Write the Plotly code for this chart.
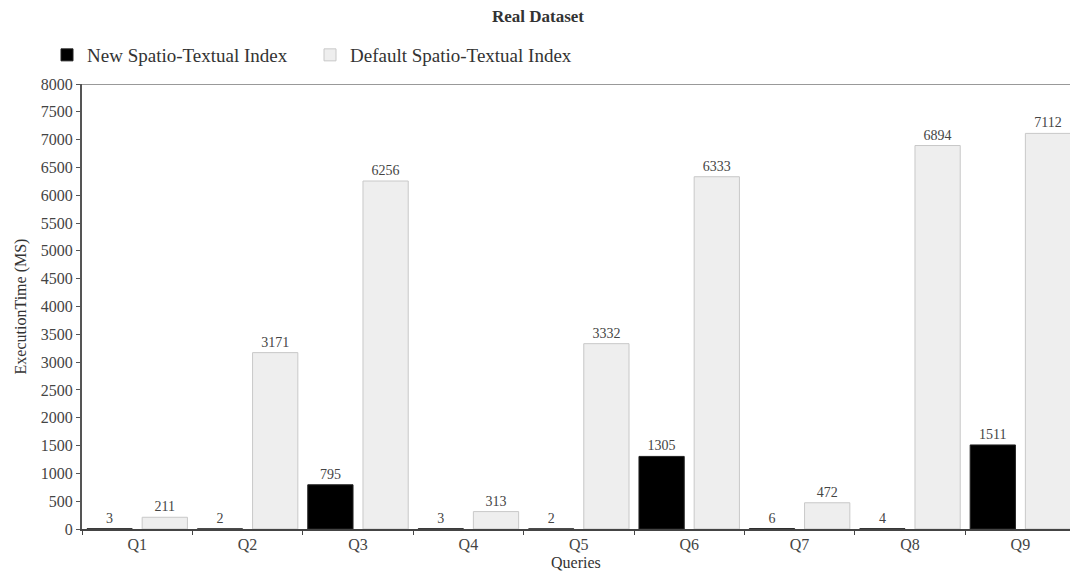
import plotly.graph_objects as go

# Query labels and execution times (ms) for both index variants
queries = ["Q1", "Q2", "Q3", "Q4", "Q5", "Q6", "Q7", "Q8", "Q9"]
new_index_ms = [3, 2, 795, 3, 2, 1305, 6, 4, 1511]
default_index_ms = [211, 3171, 6256, 313, 3332, 6333, 472, 6894, 7112]

y_ticks = list(range(0, 8001, 500))

SERIF = "Liberation Serif, Times New Roman, serif"
TEXT_COLOR = "#444444"

fig = go.Figure()

fig.add_trace(go.Bar(
    name="New Spatio-Textual Index",
    x=queries,
    y=new_index_ms,
    marker=dict(color="#000000", line=dict(color="#222222", width=1)),
    text=[str(v) for v in new_index_ms],
    textposition="outside",
    textfont=dict(family=SERIF, size=14, color=TEXT_COLOR),
    cliponaxis=False,
))

fig.add_trace(go.Bar(
    name="Default Spatio-Textual Index",
    x=queries,
    y=default_index_ms,
    marker=dict(color="#eeeeee", line=dict(color="#c8c8c8", width=1)),
    text=[str(v) for v in default_index_ms],
    textposition="outside",
    textfont=dict(family=SERIF, size=14, color=TEXT_COLOR),
    cliponaxis=False,
))

fig.update_layout(
    width=1070,
    height=572,
    margin=dict(l=82, r=0, t=84, b=43),
    paper_bgcolor="white",
    plot_bgcolor="white",
    barmode="group",
    bargap=0.0,
    bargroupgap=0.18,
    font=dict(family=SERIF, size=15, color=TEXT_COLOR),
    title=dict(
        text="<b>Real Dataset</b>",
        x=538 / 1070, xanchor="center", xref="container",
        y=1 - 16 / 572, yanchor="middle", yref="container",
        font=dict(family=SERIF, size=17, color="#333333"),
    ),
    legend=dict(
        orientation="h",
        xref="container", yref="container",
        x=47 / 1070, xanchor="left",
        y=1 - 55 / 572, yanchor="middle",
        font=dict(family=SERIF, size=19, color="#333333"),
        entrywidth=218,
        entrywidthmode="pixels",
        traceorder="normal",
    ),
    showlegend=True,
)

fig.update_xaxes(
    type="category",
    range=[-0.5, -0.5 + 988 / 110.4],
    showline=True,
    linecolor="#444444",
    linewidth=2,
    ticks="outside",
    tickson="boundaries",
    ticklen=4,
    tickcolor="#444444",
    showgrid=False,
    automargin=False,
    tickfont=dict(family=SERIF, size=16, color=TEXT_COLOR),
)

fig.update_yaxes(
    range=[0, 8000],
    tickvals=y_ticks,
    ticktext=[str(v) for v in y_ticks],
    showline=True,
    linecolor="#555555",
    linewidth=2,
    ticks="outside",
    ticklen=4,
    tickcolor="#555555",
    showgrid=False,
    zeroline=False,
    automargin=False,
    tickfont=dict(family=SERIF, size=16, color=TEXT_COLOR),
    title=dict(text="ExecutionTime (MS)", font=dict(family=SERIF, size=16, color="#333333"), standoff=10),
)

# X axis title, placed just under the category labels (plot bottom sits at 529 px)
fig.add_annotation(
    text="Queries", xref="paper", yref="paper",
    x=0.5, y=(529 - 562) / 445, xanchor="center", yanchor="middle",
    showarrow=False, font=dict(family=SERIF, size=16, color="#333333"),
)

# Thin frame line along the top of the plot area
fig.add_shape(
    type="line", xref="paper", yref="y",
    x0=0, x1=1, y0=8000, y1=8000,
    line=dict(color="#999999", width=2),
)

fig.write_html("out.html")
